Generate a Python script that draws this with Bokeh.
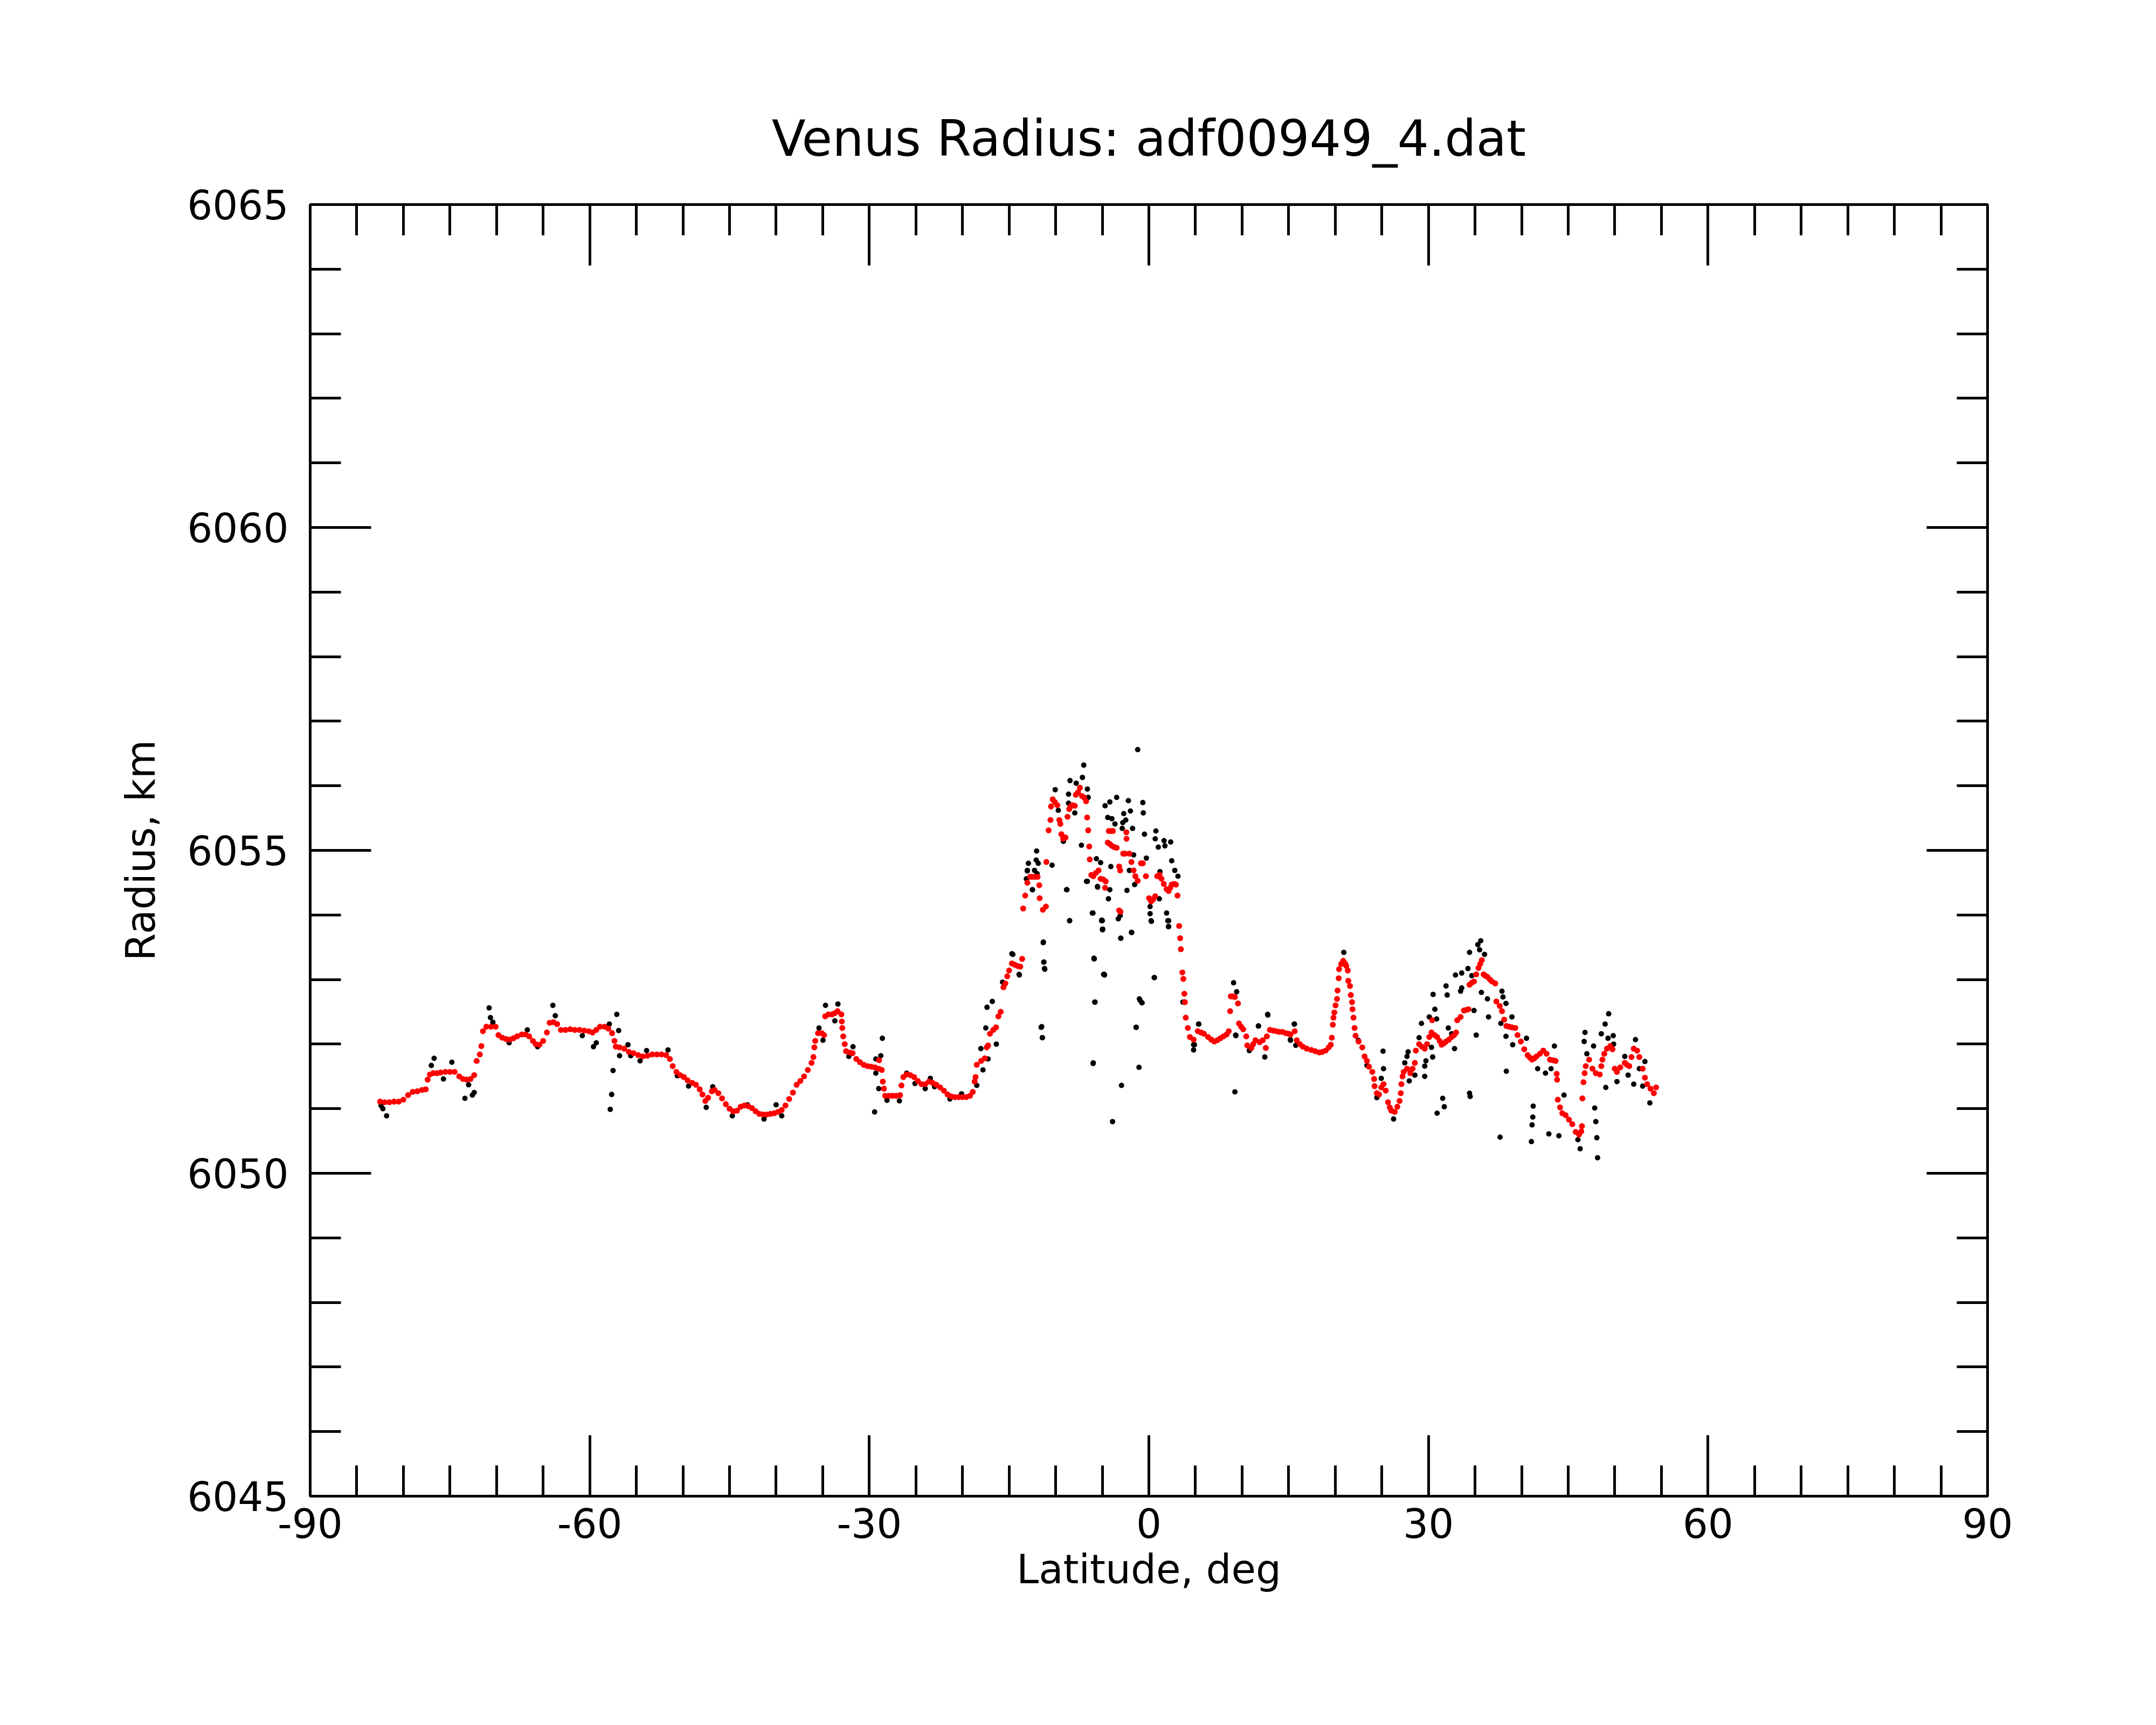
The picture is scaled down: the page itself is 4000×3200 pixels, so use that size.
from bokeh.plotting import figure
from bokeh.models import LinearAxis, FixedTicker, CustomJSTickFormatter
from bokeh.embed import file_html
from bokeh.resources import INLINE

TITLE = "Venus Radius: adf00949_4.dat"
X_LABEL = "Latitude, deg"
Y_LABEL = "Radius, km"
X_TICKS = [-90, -60, -30, 0, 30, 60, 90]
Y_TICKS = [6045, 6050, 6055, 6060, 6065]

# smoothed profile (red)
red_lat = [
    -82.5, -82.0, -81.5, -81.0, -80.5, -80.0, -79.5, -79.0, -78.5, -78.0, -77.6, -77.4, -77.15,
    -76.8, -76.4, -76.0, -75.5, -75.0, -74.5, -74.0, -73.6, -73.2, -72.8, -72.4, -72.14, -71.8,
    -71.63, -71.46, -71.1, -70.6, -70.1, -69.8, -69.4, -69.0, -68.6, -68.2, -67.8, -67.3, -66.9,
    -66.5, -66.1, -65.8, -65.4, -65.0, -64.6, -64.3, -63.9, -63.5, -63.1, -62.6, -62.1, -61.6,
    -61.1, -60.6, -60.1, -59.7, -59.3, -58.9, -58.4, -58.0, -57.6, -57.35, -57.2, -56.8, -56.3,
    -55.8, -55.3, -54.8, -54.3, -53.8, -53.3, -52.8, -52.3, -51.8, -51.4, -51.1, -50.7, -50.3,
    -49.9, -49.5, -49.0, -48.6, -48.2, -47.9, -47.6, -47.3, -46.9, -46.6, -46.2, -45.8, -45.4,
    -45.0, -44.6, -44.2, -43.8, -43.4, -43.0, -42.6, -42.2, -41.8, -41.4, -41.0, -40.6, -40.2,
    -39.8, -39.4, -39.0, -38.6, -38.2, -37.8, -37.4, -37.0, -36.6, -36.2, -36.0, -35.9, -35.8,
    -35.5, -35.1, -34.85, -34.74, -34.4, -34.0, -33.7, -33.4, -33.0, -32.95, -32.9, -32.8, -32.64,
    -32.5, -32.1, -31.8, -31.4, -31.0, -30.6, -30.2, -29.8, -29.4, -29.0, -28.95, -28.66, -28.55,
    -28.43, -28.3, -27.9, -27.5, -27.1, -26.7, -26.55, -26.35, -26.0, -25.6, -25.2, -24.8, -24.4,
    -24.0, -23.6, -23.2, -22.8, -22.4, -22.0, -21.6, -21.2, -20.8, -20.4, -20.0, -19.6, -19.2,
    -18.9, -18.7, -18.6, -18.47, -18.0, -17.6, -17.4, -17.25, -17.05, -16.7, -16.4, -16.15, -15.9,
    -15.6, -15.4, -15.2, -15.0, -14.7, -14.4, -14.1, -13.8, -13.6,
    -13.49, -13.27, -13.04, -12.75, -12.49, -12.2, -11.94, -11.76, -11.72, -11.38, -11.05, -11.0,
    -10.76, -10.56, -10.5, -10.32, -10.1, -9.83, -9.61, -9.5, -9.39, -9.2, -8.95, -8.73, -8.55,
    -8.4, -8.2, -7.95, -7.84, -7.6, -7.4, -7.18, -6.95, -6.74, -6.62, -6.51, -6.4, -6.34, -6.18,
    -5.96, -5.7, -5.4, -5.18, -4.9, -4.63, -4.7, -4.3, -4.05, -3.86, -4.41, -4.2, -3.97, -3.7,
    -3.46, -3.19, -3.08, -3.19, -3.05, -2.75, -2.55, -2.42, -2.4, -2.09, -1.87, -1.64, -1.45,
    -1.2, -0.85, -0.65, -0.32, 0.02, 0.24, 0.45, 0.68, 0.9, 1.15, 1.35, 1.6, 1.9, 2.12, 2.3,
    2.45, 2.7, 2.9, 3.07,
    3.25, 3.36, 3.43, 3.59, 3.7, 3.81, 3.87, 3.96, 4.18, 4.4, 4.8, 5.25, 5.6, 5.91, 6.35, 6.7,
    7.02, 7.35, 7.68, 8.0, 8.35, 8.57, 8.72, 8.79, 9.0, 9.23, 9.56, 9.67, 9.9, 10.12, 10.45,
    10.56, 11.0, 11.2, 11.44, 11.89, 12.22, 12.55, 12.66, 12.99, 13.33, 13.66, 14.0, 14.32, 14.7,
    15.0, 15.2, 15.65, 15.87, 16.2, 16.53, 16.95, 17.42, 17.85, 18.3, 18.6, 18.97, 19.3, 19.52,
    19.63, 19.74, 19.81, 19.9, 20.03, 20.19, 20.25, 20.37, 20.41, 20.63, 20.85, 21.05, 21.18,
    21.34, 21.4, 21.58, 21.67, 21.8, 21.85, 21.96, 22.07, 22.18, 22.51, 22.9, 23.14, 23.4, 23.62,
    23.98, 24.17, 24.22, 24.46, 24.7, 24.94, 25.18, 25.42, 25.66, 25.85, 26.02, 26.38, 26.66,
    26.9, 27.03, 27.1, 27.22, 27.34, 27.7, 28.05, 28.3, 28.54, 28.65, 29.0, 29.3, 29.6, 29.85,
    30.09, 30.33, 30.4, 30.65, 30.93, 31.2, 31.41, 31.65, 31.89, 32.2, 32.49, 32.75, 32.97, 33.09,
    33.45, 33.81, 34.05, 34.29, 34.41, 34.65, 34.89, 35.13, 35.37, 35.55, 35.73, 35.92, 36.1,
    36.33, 36.6, 36.81, 37.17, 37.29, 37.65, 37.89, 38.13, 38.36, 38.66, 38.96, 39.32, 39.56,
    39.92, 40.28, 40.64, 40.9, 41.12, 41.36, 41.6, 41.96, 42.32, 42.68, 43.04, 43.34, 43.64,
    43.76, 43.81, 43.88, 44.12, 44.36, 44.72, 45.08, 45.44, 45.8, 46.16, 46.4, 46.47, 46.52,
    46.64, 46.76, 46.88, 47.24, 47.6, 47.96, 48.39, 48.55, 48.67, 48.87, 49.15, 49.51, 49.75,
    49.99, 50.23, 50.59, 51.07, 51.3, 51.55, 51.79, 52.03, 52.39, 52.63, 52.99, 53.23, 53.47,
    53.83, 54.19, 54.43,
]
red_rad = [
    6051.11, 6051.10, 6051.10, 6051.11, 6051.11, 6051.14, 6051.21, 6051.26, 6051.27, 6051.29, 6051.30, 6051.45, 6051.53,
    6051.55, 6051.55, 6051.56, 6051.57, 6051.57, 6051.57, 6051.50, 6051.46, 6051.45, 6051.46, 6051.52, 6051.74, 6051.84,
    6051.97, 6052.20, 6052.27, 6052.27, 6052.27, 6052.14, 6052.10, 6052.08, 6052.07, 6052.09, 6052.12, 6052.15, 6052.15,
    6052.12, 6052.05, 6052.00, 6051.99, 6052.05, 6052.18, 6052.33, 6052.34, 6052.31, 6052.22, 6052.22, 6052.23, 6052.22,
    6052.22, 6052.21, 6052.20, 6052.18, 6052.22, 6052.27, 6052.27, 6052.24, 6052.17, 6052.05, 6051.96, 6051.95, 6051.93,
    6051.88, 6051.86, 6051.83, 6051.81, 6051.82, 6051.84, 6051.84, 6051.84, 6051.83, 6051.77, 6051.66, 6051.57, 6051.52,
    6051.49, 6051.44, 6051.40, 6051.37, 6051.30, 6051.22, 6051.12, 6051.17, 6051.27, 6051.29, 6051.24, 6051.16, 6051.07,
    6051.00, 6050.96, 6050.97, 6051.03, 6051.05, 6051.04, 6051.01, 6050.96, 6050.92, 6050.91, 6050.91, 6050.92, 6050.93,
    6050.95, 6050.98, 6051.05, 6051.15, 6051.25, 6051.37, 6051.43, 6051.50, 6051.60, 6051.71, 6051.80, 6051.95, 6052.05,
    6052.17, 6052.17, 6052.14, 6052.43, 6052.46, 6052.46, 6052.48, 6052.51, 6052.46, 6052.35, 6052.25, 6052.12, 6052.00,
    6051.89, 6051.87, 6051.86, 6051.77, 6051.72, 6051.68, 6051.66, 6051.65, 6051.64, 6051.62, 6051.75, 6051.60, 6051.42,
    6051.31, 6051.20, 6051.20, 6051.20, 6051.20, 6051.21, 6051.36, 6051.49, 6051.53, 6051.52, 6051.49, 6051.43, 6051.38,
    6051.38, 6051.42, 6051.40, 6051.37, 6051.33, 6051.28, 6051.22, 6051.19, 6051.18, 6051.18, 6051.18, 6051.18, 6051.20,
    6051.26, 6051.42, 6051.49, 6051.68, 6051.74, 6051.78, 6051.95, 6051.98, 6052.16, 6052.22, 6052.26, 6052.43, 6052.50,
    6052.88, 6052.94, 6053.05, 6053.14, 6053.25, 6053.23, 6053.21, 6053.20, 6053.32,
    6054.10, 6054.30, 6054.50, 6054.59, 6054.59, 6054.59, 6054.59, 6054.46, 6054.26, 6054.08, 6054.13, 6054.82,
    6055.31, 6055.47, 6055.68, 6055.79, 6055.75, 6055.70, 6055.47, 6055.41, 6055.25, 6055.18, 6055.20, 6055.52, 6055.64,
    6055.68, 6055.70, 6055.69, 6055.86, 6055.90, 6055.97, 6055.84, 6055.82, 6055.76, 6055.51, 6055.31, 6055.06, 6054.86, 6054.62,
    6054.60, 6054.65, 6054.69, 6054.56, 6054.55, 6054.52, 6054.42, 6055.30, 6055.30, 6055.30, 6055.12, 6055.10, 6055.07, 6055.05,
    6055.04, 6054.75, 6054.69, 6054.07, 6054.05, 6054.95, 6054.95, 6055.28, 6055.18, 6054.95, 6054.82, 6054.69, 6054.60,
    6054.53, 6054.80, 6054.80, 6054.60, 6054.26, 6054.21, 6054.24, 6054.29, 6054.60, 6054.62, 6054.56, 6054.48, 6054.40, 6054.37, 6054.42,
    6054.47, 6054.48, 6054.47, 6054.30,
    6053.83, 6053.64, 6053.47, 6053.11, 6053.01, 6052.78, 6052.65, 6052.41, 6052.25, 6052.11, 6052.07, 6052.20, 6052.18, 6052.16, 6052.11, 6052.07,
    6052.04, 6052.06, 6052.09, 6052.12, 6052.15, 6052.20, 6052.51, 6052.74, 6052.74, 6052.73, 6052.63, 6052.32, 6052.27, 6052.23, 6052.12,
    6051.98, 6051.94, 6052.00, 6052.06, 6052.03, 6052.06, 6051.94, 6052.12, 6052.22, 6052.21, 6052.20, 6052.19, 6052.19, 6052.17,
    6052.16, 6052.15, 6052.20, 6052.06, 6052.00, 6051.96, 6051.93, 6051.91, 6051.89, 6051.87, 6051.88, 6051.90, 6051.95, 6051.99,
    6052.10, 6052.30, 6052.41, 6052.49, 6052.60, 6052.70, 6052.83, 6053.02, 6053.16, 6053.24, 6053.29, 6053.25, 6053.21,
    6053.14, 6052.98, 6052.90, 6052.76, 6052.65, 6052.54, 6052.41, 6052.25, 6052.13, 6052.04, 6051.95, 6051.81, 6051.74, 6051.65,
    6051.57, 6051.46, 6051.35, 6051.24, 6051.22, 6051.33, 6051.38, 6051.28, 6051.10, 6051.02, 6050.97, 6050.95, 6051.03,
    6051.12, 6051.24, 6051.38, 6051.50, 6051.57, 6051.62, 6051.55, 6051.62, 6051.71, 6051.90, 6052.00, 6051.96, 6051.93, 6052.00,
    6052.11, 6052.18, 6052.37, 6052.14, 6052.11, 6052.05, 6051.99, 6052.01, 6052.04, 6052.07, 6052.11, 6052.14, 6052.18, 6052.37,
    6052.42, 6052.52, 6052.53, 6052.54, 6052.92, 6052.95, 6052.97, 6053.08, 6053.18, 6053.24, 6053.30, 6053.08, 6053.06,
    6053.04, 6053.00, 6052.97, 6052.94, 6052.66, 6052.59, 6052.51, 6052.38, 6052.28, 6052.27, 6052.26, 6052.25, 6052.14,
    6052.04, 6051.92, 6051.83, 6051.79, 6051.76, 6051.78, 6051.81, 6051.85, 6051.90, 6051.85, 6051.76, 6051.75, 6051.74,
    6051.54, 6051.45, 6051.14, 6051.02, 6050.93, 6050.90, 6050.83, 6050.76, 6050.64, 6050.60, 6050.65, 6050.73, 6051.16,
    6051.41, 6051.55, 6051.66, 6051.76, 6051.62, 6051.55, 6051.53, 6051.66, 6051.76, 6051.85, 6051.93, 6051.97, 6051.92,
    6051.62, 6051.57, 6051.64, 6051.71, 6051.68, 6051.66, 6051.80, 6051.93, 6051.90, 6051.80, 6051.62, 6051.48, 6051.38,
    6051.31, 6051.24, 6051.33,
]

# raw measurements that stand out from the smoothed profile (black)
raw_lat = [
    -81.8, -82.2, -82.4, -76.7, -77.0, -74.8, -75.7, -73.0, -73.4, -72.6, -72.4, -70.8, -70.66, -70.4,
    -68.65, -66.7, -65.6, -63.96, -63.7, -60.8, -59.3, -59.6, -57.9, -57.1, -56.9, -57.5, -57.65,
    -57.8, -56.8, -55.9, -55.6, -54.6, -53.9, -51.6, -50.6, -49.4, -47.5, -46.8, -44.7, -43.07,
    -41.3, -40.0, -39.4, -35.4, -34.97, -34.7, -33.7, -33.37, -32.2, -31.75, -28.6, -28.77, -29.3,
    -29.3, -28.99, -29.43, -28.1, -26.77, -26.0, -25.1, -24.0, -23.45, -23.0, -21.35, -20.1, -18.47,
    -17.8, -18.03, -17.26, -17.5, -16.37, -17.37, -16.8, -15.7, -14.6, -13.9, -11.32, -11.28,
    -11.17, -11.5, -11.43, -12.5, -13.05, -8.84, -8.51, -6.0, -5.08, -4.97, -5.86, -5.79, -5.97,
    -4.86, -5.5, -6.6,
    -1.2, -6.99, -7.13, -8.46, -7.8, -10.05, -6.6, -8.62, -6.51, -8.62, -7.95, -9.72, -3.46, -4.19,
    -4.7, -2.2, -0.65, -0.6, -1.98, -2.7, -4.41, -3.97, -2.48, -3.64, -2.8, -2.86, -1.75, -0.47,
    0.75, 0.68, 1.63, 2.34, 1.01, 1.72, -7.24, -9.17, -12.05, -12.09, -12.93, -11.87, -10.39,
    -13.04, -12.27, -12.0, -13.15, -12.49, -5.63, -5.18, -4.08, -1.64, -0.27, 2.45, 2.78, 3.12,
    1.19, -2.09, -6.69, -5.52, -4.19, -2.35, -1.53, -4.34, 1.12, -8.79, 0.13, -6.07, -3.08, 0.13,
    1.9, -8.5, -5.0, 0.24, 2.12, 2.12, -4.96, -1.87, -3.02, -11.34, -5.89, -11.27, -11.2, -4.79,
    0.57, -5.8, -1.02, -0.76, -11.56, -11.43, -1.38, -14.7, -13.93, 9.09, 9.42, 12.74, 11.75,
    15.62, 5.33, 4.89, 9.31, 15.18,
    -5.05, -4.98, -3.28, -3.01, -1.84, 0.27, 2.04, 2.1, -5.89, -4.76, 0.6, -5.78, -0.95, -0.73,
    -1.35, -5.98, -1.06, -2.94, 9.23, -3.9, 3.65, 4.8, 4.8, 5.36, 9.34, 12.77, 11.77, 12.44,
    10.78, 15.6, 15.2, 15.76, 20.92, 22.47, 23.4,
    35.61, 35.3, 35.49, 36.02, 34.41, 34.24, 34.65, 33.57, 32.9, 31.89, 32.01, 33.45, 33.57,
    30.5, 30.69, 30.09, 29.25, 30.88, 32.13, 32.49, 32.8, 29.0, 30.33, 30.45, 29.73, 29.6, 29.6,
    27.82, 27.7, 27.46, 27.94, 28.54, 25.13, 25.18, 24.94, 24.46, 26.26, 31.53, 31.7, 30.93,
    34.41, 34.48, 34.89, 35.13, 35.68, 36.33, 36.45, 37.89, 38.0, 38.32, 37.77, 38.96, 38.32,
    39.04, 40.52, 41.72, 42.56, 43.16, 43.52, 38.36, 37.69, 41.24, 41.2, 41.12, 41.05, 42.92,
    44.0, 44.55, 46.28, 46.04, 47.84, 47.96, 48.07, 48.15, 46.8, 46.71, 47.0, 47.72, 48.55,
    48.96, 49.34, 49.27, 49.83, 49.87, 49.03, 50.23, 51.07, 51.43, 52.03, 52.22, 52.63, 53.23,
    52.99, 53.76,
]
raw_rad = [
    6050.89, 6051.00, 6051.05, 6051.78, 6051.67, 6051.72, 6051.46, 6051.37, 6051.16, 6051.21, 6051.25, 6052.56, 6052.41, 6052.34,
    6052.02, 6052.22, 6051.96, 6052.60, 6052.44, 6052.13, 6052.02, 6051.96, 6052.31, 6052.46, 6052.21, 6051.59, 6051.22,
    6050.99, 6051.82, 6051.99, 6051.82, 6051.74, 6051.90, 6051.91, 6051.51, 6051.35, 6051.02, 6051.34, 6050.89, 6051.06,
    6050.84, 6051.06, 6050.89, 6052.25, 6052.06, 6052.60, 6052.36, 6052.62, 6051.81, 6051.96, 6052.09, 6051.82, 6051.77,
    6051.55, 6051.31, 6050.95, 6051.13, 6051.12, 6051.55, 6051.39, 6051.31, 6051.47, 6051.34, 6051.15, 6051.23, 6051.36,
    6051.60, 6051.93, 6051.77, 6052.25, 6052.00, 6052.57, 6052.66, 6052.96, 6053.39, 6053.07, 6053.58, 6053.27,
    6053.16, 6052.27, 6052.10, 6054.39, 6054.68, 6054.39, 6053.91, 6054.03, 6053.91, 6053.78, 6053.32, 6052.65, 6051.71,
    6053.08, 6054.43, 6054.52,
    6056.56, 6056.32, 6056.13, 6056.08, 6056.04, 6055.94, 6055.95, 6055.87, 6055.82, 6055.73, 6055.58, 6055.62, 6055.82, 6055.75,
    6055.69, 6055.77, 6055.74, 6055.58, 6055.61, 6055.57, 6055.51, 6055.49, 6055.47, 6055.41, 6055.43, 6055.34, 6055.34, 6055.25,
    6055.30, 6055.18, 6055.15, 6055.13, 6055.05, 6055.07, 6055.08, 6055.14, 6054.99, 6054.85, 6054.80, 6054.80, 6054.77,
    6054.69, 6054.69, 6054.64, 6054.56, 6054.39, 6054.87, 6054.81, 6054.75, 6054.93, 6054.88, 6054.84, 6054.69, 6054.60,
    6054.67, 6054.69, 6054.52, 6054.44, 6054.39, 6054.38, 6054.47, 6054.25, 6054.25, 6054.39, 6054.13, 6054.03, 6053.99, 6054.02,
    6054.03, 6053.91, 6053.91, 6053.91, 6053.91, 6053.82, 6053.78, 6053.73, 6053.64, 6053.57, 6053.32, 6053.27, 6053.17, 6053.08,
    6053.03, 6052.65, 6052.70, 6052.64, 6052.26, 6052.10, 6052.26, 6053.40, 6053.08, 6052.95, 6052.81, 6052.46, 6052.28,
    6052.31, 6052.31, 6051.99, 6052.14, 6052.07,
    6053.92, 6053.77, 6053.94, 6053.64, 6053.73, 6053.90, 6053.91, 6053.82, 6053.33, 6053.07, 6053.03, 6052.65, 6052.68, 6052.64,
    6052.26, 6051.70, 6051.64, 6051.36, 6051.26, 6050.80, 6052.65, 6051.99, 6051.91, 6052.31, 6052.13, 6052.45, 6052.28, 6051.80,
    6051.90, 6052.31, 6052.06, 6051.98, 6053.42, 6052.06, 6051.67,
    6053.60, 6053.54, 6053.46, 6053.39, 6053.42, 6053.17, 6053.06, 6053.10, 6053.07, 6052.90, 6052.76, 6052.82, 6052.87,
    6052.77, 6052.54, 6052.42, 6052.32, 6052.39, 6052.25, 6052.16, 6051.93, 6052.10, 6051.95, 6051.80, 6051.74, 6051.66, 6051.50,
    6051.88, 6051.81, 6051.71, 6051.43, 6051.52, 6051.89, 6051.62, 6051.47, 6051.17, 6050.84, 6051.16, 6051.03, 6050.93,
    6051.24, 6051.19, 6052.52, 6052.14, 6052.80, 6052.70, 6052.42, 6052.82, 6052.73, 6052.63, 6052.32, 6052.42, 6052.12,
    6051.99, 6052.09, 6051.62, 6051.55, 6051.62, 6051.97, 6051.58, 6050.56, 6051.04, 6050.87, 6050.75, 6050.49, 6050.61,
    6050.58, 6051.21, 6050.38, 6050.52, 6051.01, 6050.80, 6050.55, 6050.24, 6052.18, 6052.04, 6051.85, 6051.97, 6052.16,
    6052.31, 6052.47, 6052.09, 6052.13, 6052.00, 6051.33, 6051.42, 6051.81, 6051.52, 6051.38, 6052.07, 6051.62, 6051.73,
    6051.35, 6051.09,
]

FONT = "DejaVu Sans"

p = figure(width=3984, height=3184, x_range=(-90, 90), y_range=(6045, 6065),
           output_backend="svg", toolbar_location=None,
           min_border_left=575, min_border_right=297, min_border_top=379, min_border_bottom=409,
           title=TITLE)
p.background_fill_color = "white"
p.border_fill_color = "white"
p.xgrid.visible = False
p.ygrid.visible = False
p.outline_line_color = "black"
p.outline_line_width = 5

p.title.align = "center"
p.title.text_font = FONT
p.title.text_font_size = "92px"
p.title.text_font_style = "normal"
p.title.text_color = "black"
p.title.standoff = 137

xt = FixedTicker(ticks=X_TICKS, minor_ticks=list(range(-90, 91, 5)))
yt = FixedTicker(ticks=Y_TICKS, minor_ticks=list(range(6045, 6066, 1)))


def style(ax, ticker, labels):
    ax.ticker = ticker
    ax.axis_line_width = 5
    ax.axis_line_color = "black"
    ax.major_tick_line_width = 5
    ax.minor_tick_line_width = 5
    ax.major_tick_line_color = "black"
    ax.minor_tick_line_color = "black"
    ax.major_tick_in = 113
    ax.major_tick_out = 0
    ax.minor_tick_in = 57
    ax.minor_tick_out = 0
    ax.major_label_text_font = FONT
    ax.major_label_text_font_size = "74px"
    ax.major_label_text_color = "black"
    ax.axis_label_text_font = FONT
    ax.axis_label_text_font_size = "74px"
    ax.axis_label_text_font_style = "normal"
    ax.axis_label_text_color = "black"
    if labels:
        ax.formatter = CustomJSTickFormatter(code="return tick.toFixed(0);")
    else:
        ax.formatter = CustomJSTickFormatter(code="return '';")
        ax.major_label_text_font_size = "1px"


xa = p.xaxis[0]
style(xa, xt, True)
xa.axis_label = X_LABEL
xa.major_label_standoff = 22
xa.axis_label_standoff = 12

ya = p.yaxis[0]
style(ya, yt, True)
ya.axis_label = Y_LABEL
ya.major_label_standoff = 40
ya.axis_label_standoff = 40

top = LinearAxis()
style(top, xt, False)
p.add_layout(top, "above")
right = LinearAxis()
style(right, yt, False)
p.add_layout(right, "right")

p.scatter(raw_lat, raw_rad, size=10, marker="circle", fill_color="black", line_color=None)
p.scatter(red_lat, red_rad, size=11, marker="circle", fill_color="#ff0000", line_color=None)

open("out.html", "w").write(file_html(p, INLINE))
